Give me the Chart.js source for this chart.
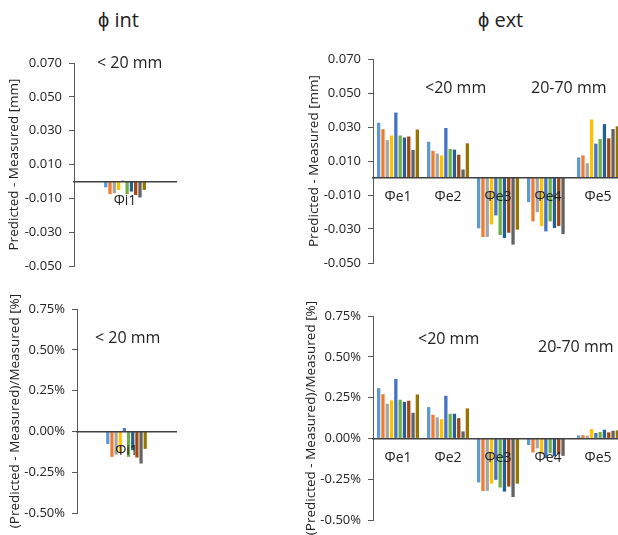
<!DOCTYPE html>
<html lang="en">
<head>
    <meta charset="UTF-8">
    <title>Predicted - Measured</title>
    <script src="https://cdn.jsdelivr.net/npm/chart.js@4.4.0/dist/chart.umd.min.js"></script>
    <style>
        body {
            margin: 0;
            width: 618px;
            height: 535px;
            overflow: hidden;
            background: #fff;
            position: relative;
            font-family: "Open Sans", sans-serif;
            color: #222;
        }
        canvas { position: absolute; }
        .txt {
            position: absolute;
            white-space: nowrap;
            line-height: 20px;
            font-size: 16px;
        }
        .head {
            position: absolute;
            font-size: 20px;
            line-height: 26px;
            white-space: nowrap;
        }
    </style>
</head>
<body>
    <div class="head" style="left:98px; top:7px;">ϕ int</div>
    <div class="head" style="left:478px; top:7px;">ϕ ext</div>

    <canvas id="intMmChart" width="200" height="290" style="left:0; top:0;"></canvas>
    <canvas id="extMmChart" width="350" height="290" style="left:280px; top:0;"></canvas>
    <canvas id="intPctChart" width="200" height="245" style="left:0; top:290px;"></canvas>
    <canvas id="extPctChart" width="350" height="245" style="left:280px; top:290px;"></canvas>

    <div class="txt" style="left:97px; top:52px;">&lt; 20 mm</div>
    <div class="txt" style="left:425px; top:77px;">&lt;20 mm</div>
    <div class="txt" style="left:531px; top:77px;">20-70 mm</div>
    <div class="txt" style="left:95px; top:327px;">&lt; 20 mm</div>
    <div class="txt" style="left:418px; top:328px;">&lt;20 mm</div>
    <div class="txt" style="left:538px; top:336px;">20-70 mm</div>

    <script>
        // categories and tick labels
        const intLabels = ['Φi1'];
        const extLabels = ['Φe1', 'Φe2', 'Φe3', 'Φe4', 'Φe5'];
        const mmTicks = [-0.05, -0.03, -0.01, 0.01, 0.03, 0.05, 0.07];
        const pctTicks = [-0.5, -0.25, 0, 0.25, 0.5, 0.75];

        // inner diameter, one value per series (10 series)
        const intMm = [-0.0035, -0.0075, -0.007, -0.005, 0.0005, -0.0075, -0.006, -0.008, -0.0095, -0.005];
        const intPct = [-0.078, -0.156, -0.143, -0.127, 0.02, -0.156, -0.115, -0.16, -0.197, -0.107];

        // outer diameters, one row per series, columns = Φe1..Φe5
        const extMm = [
            [0.0325, 0.0213, -0.0296, -0.0142, 0.0121],
            [0.0287, 0.0160, -0.0347, -0.0255, 0.0133],
            [0.0223, 0.0144, -0.0347, -0.0201, 0.0087],
            [0.0250, 0.0133, -0.0273, -0.0283, 0.0344],
            [0.0385, 0.0294, -0.0220, -0.0314, 0.0202],
            [0.0250, 0.0171, -0.0335, -0.0255, 0.0229],
            [0.0238, 0.0167, -0.0353, -0.0294, 0.0317],
            [0.0244, 0.0137, -0.0322, -0.0283, 0.0233],
            [0.0165, 0.0050, -0.0392, -0.0330, 0.0288],
            [0.0285, 0.0204, -0.0304, null, 0.0304]
        ];
        const extPct = [
            [0.308, 0.192, -0.270, -0.041, 0.018],
            [0.271, 0.145, -0.322, -0.086, 0.020],
            [0.212, 0.129, -0.322, -0.061, 0.016],
            [0.233, 0.118, -0.277, -0.096, 0.057],
            [0.365, 0.261, -0.254, -0.121, 0.033],
            [0.237, 0.151, -0.301, -0.090, 0.039],
            [0.224, 0.151, -0.326, -0.111, 0.053],
            [0.231, 0.124, -0.295, -0.098, 0.037],
            [0.157, 0.043, -0.359, -0.107, 0.047],
            [0.269, 0.184, -0.277, null, 0.049]
        ];

        const seriesColors = ['#5B9BD5', '#ED7D31', '#A5A5A5', '#FFC000', '#4472C4',
                              '#70AD47', '#255E91', '#9E480E', '#636363', '#997300'];

        const axisColor = '#595959';
        const font = 'Open Sans';

        function makeChart(id, labels, rows, ticks, fmt, title, box) {
            const datasets = rows.map((row, i) => ({
                label: 'S' + (i + 1),
                data: row,
                backgroundColor: seriesColors[i],
                borderWidth: 0,
                categoryPercentage: box.catPct,
                barPercentage: 0.77
            }));
            return new Chart(document.getElementById(id), {
                type: 'bar',
                data: { labels: labels, datasets: datasets },
                options: {
                    responsive: false,
                    animation: false,
                    devicePixelRatio: 1,
                    layout: { padding: { left: 0, top: box.top, right: box.right, bottom: box.bottom } },
                    plugins: { legend: { display: false }, tooltip: { enabled: false } },
                    scales: {
                        x: {
                            position: { y: 0 },
                            grid: { display: false, drawTicks: false },
                            border: { display: true, color: '#404040', width: 1.5, z: 1 },
                            // labels sit on top of the bars, as in the original
                            ticks: { z: 1, color: '#222', padding: 11, font: { family: font, size: 14 } }
                        },
                        y: {
                            min: ticks[0],
                            max: ticks[ticks.length - 1],
                            afterBuildTicks: s => { s.ticks = ticks.map(v => ({ value: v })); },
                            afterFit: s => { s.width = box.axisW; },
                            grid: { drawOnChartArea: false, drawTicks: true, tickLength: 5, color: axisColor },
                            border: { display: true, color: axisColor, width: 1 },
                            ticks: {
                                color: '#222',
                                padding: 7,
                                font: { family: font, size: 13 },
                                callback: v => fmt(v)
                            },
                            title: {
                                display: true,
                                text: title,
                                color: '#222',
                                padding: { top: box.titlePad, bottom: 0 },
                                font: { family: font, size: 13.5 }
                            }
                        }
                    }
                }
            });
        }

        const fmtMm = v => v.toFixed(3);
        const fmtPct = v => v.toFixed(2) + '%';

        makeChart('intMmChart', intLabels, intMm.map(v => [v]), mmTicks, fmtMm,
            'Predicted - Measured [mm]',
            { top: 63, right: 24, bottom: 24, axisW: 74, titlePad: 6, catPct: 0.42 });
        makeChart('extMmChart', extLabels, extMm, mmTicks, fmtMm,
            'Predicted - Measured [mm]',
            { top: 59, right: 7, bottom: 27, axisW: 93, titlePad: 26, catPct: 0.86 });
        makeChart('intPctChart', intLabels, intPct.map(v => [v]), pctTicks, fmtPct,
            '(Predicted - Measured)/Measured [%]',
            { top: 19, right: 24, bottom: 22, axisW: 77, titlePad: 7, catPct: 0.42 });
        makeChart('extPctChart', extLabels, extPct, pctTicks, fmtPct,
            '(Predicted - Measured)/Measured [%]',
            { top: 26, right: 7, bottom: 15, axisW: 93, titlePad: 23, catPct: 0.86 });
    </script>
</body>
</html>
